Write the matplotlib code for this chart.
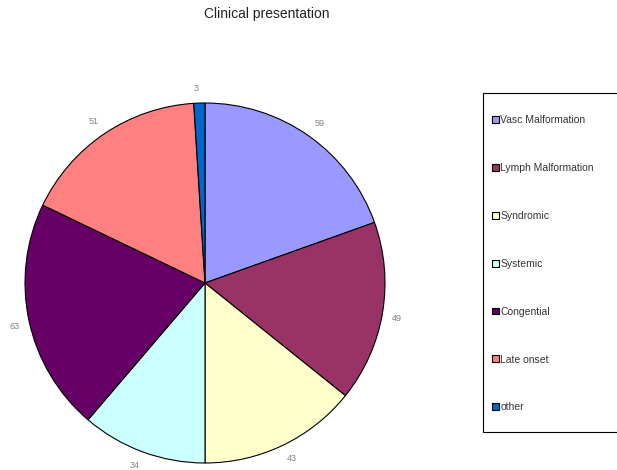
import matplotlib.pyplot as plt
from matplotlib.patches import Rectangle

plt.rcParams["font.family"] = ["Liberation Sans", "DejaVu Sans"]

categories = ["Vasc Malformation", "Lymph Malformation", "Syndromic", "Systemic",
              "Congential", "Late onset", "other"]
values = [59, 49, 43, 34, 63, 51, 3]
colors = ["#9999FF", "#993366", "#FFFFCC", "#CCFFFF", "#660066", "#FF8080", "#0066CC"]

W, H = 617, 470
fig = plt.figure(figsize=(W / 100, H / 100), dpi=100)

# pie centre ~ (205, 283) px, radius ~ 180 px
cx, cy, r = 205, 283, 180
ax = fig.add_axes([(cx - r) / W, (H - cy - r) / H, 2 * r / W, 2 * r / H])
wedges, texts = ax.pie(
    values,
    labels=[str(v) for v in values],
    colors=colors,
    startangle=90,
    counterclock=False,
    labeldistance=1.055,
    wedgeprops=dict(edgecolor="black", linewidth=0.8),
    textprops=dict(color="#808080", fontsize=6.5),
)
# excel-style: label box sits just outside the rim
for t in texts:
    x, y = t.get_position()
    t.set_va("bottom" if y > 0 else "top")
ax.set_xlim(-1, 1)
ax.set_ylim(-1, 1)
ax.set_aspect("equal")
ax.axis("off")

fig.text(267 / W, 1 - 14 / H, "Clinical presentation", ha="center", va="center",
         fontsize=10, color="#222222")

# legend frame (runs off the right edge like the original)
frame = Rectangle((483 / W, 1 - 432 / H), 200 / W, (432 - 93) / H,
                  transform=fig.transFigure, facecolor="white",
                  edgecolor="black", linewidth=0.8, zorder=0)
fig.patches.append(frame)

leg = fig.legend(
    wedges, categories,
    loc="upper left",
    bbox_to_anchor=(492 / W, 1 - 115 / H),
    fontsize=7.5,
    frameon=False,
    borderpad=0,
    labelspacing=3.64,
    handlelength=0.65,
    handleheight=0.65,
    handletextpad=0.15,
    borderaxespad=0,
)
for t in leg.get_texts():
    t.set_color("#333333")

fig.savefig("out.png", dpi=100)
